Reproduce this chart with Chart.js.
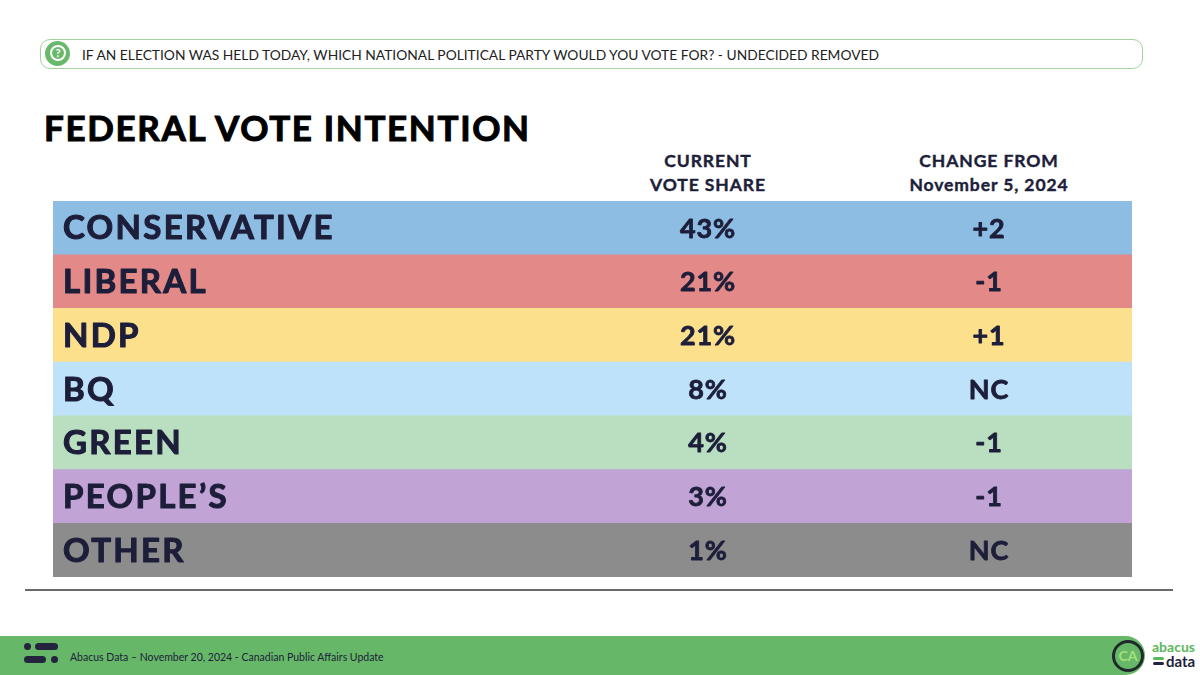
<!DOCTYPE html>
<html>
<head>
<meta charset="utf-8">
<script src="https://cdn.jsdelivr.net/npm/chart.js@4"></script>
<style>
  body { margin: 0; width: 1200px; height: 675px; background: #fff; position: relative; overflow: hidden; font-family: Lato, "Open Sans", sans-serif; color: #1d1e3a; }
  .question { position: absolute; left: 40px; top: 39px; width: 1103px; height: 30px; border: 1.5px solid #9fd29d; border-radius: 10px; box-sizing: border-box; }
  .qicon { position: absolute; left: 45px; top: 41px; width: 25px; height: 25px; border-radius: 50%; background: #68b96a; }
  .qicon div { position: absolute; left: 5px; top: 4px; width: 12px; height: 12px; border: 2px solid #fff; border-radius: 50%; color: #fff; font: bold 11px Lato; text-align: center; line-height: 12px; }
  .qtext { position: absolute; left: 82px; top: 46px; font-size: 13.8px; color: #222; }
  h1 { position: absolute; left: 44px; top: 106px; margin: 0; font-size: 35px; font-weight: bold; color: #000; letter-spacing: 1.65px; -webkit-text-stroke: 1px #000; }
  .colhead { position: absolute; top: 149px; width: 280px; text-align: center; font-size: 17.5px; font-weight: bold; line-height: 24px; color: #1d1e3a; letter-spacing: 0.9px; -webkit-text-stroke: 0.4px #1d1e3a; }
  #wrap { position: absolute; left: 53px; top: 201px; width: 1079px; height: 376px; }
  .rule { position: absolute; left: 25px; top: 589px; width: 1148px; height: 2px; background: #6a6a6a; }
  .footer { position: absolute; left: 0; top: 636px; width: 1145px; height: 39px; background: #66b868; border-radius: 0 20px 20px 0; }
  .ftext { position: absolute; left: 70px; top: 651px; font-size: 10.5px; color: #1d1e3a; }
  .mk { position: absolute; background: #24243e; border-radius: 4px; height: 6px; }
  .logo { position: absolute; left: 1112px; top: 640px; width: 26px; height: 26px; border: 3px solid #1f2a2a; border-radius: 50%; color: #a9e07a; font: bold 14px Lato; text-align: center; line-height: 26px; }
  .ab { position: absolute; left: 1152px; top: 640px; font: bold 14px Lato; color: #5cb85c; line-height: 14px; }
  .da { position: absolute; left: 1166px; top: 654px; font: bold 15px Lato; color: #1d1e3a; line-height: 14px; }
</style>
</head>
<body>
<div class="question"></div>
<div class="qicon"><div>?</div></div>
<div class="qtext">IF AN ELECTION WAS HELD TODAY, WHICH NATIONAL POLITICAL PARTY WOULD YOU VOTE FOR? - UNDECIDED REMOVED</div>
<h1>FEDERAL VOTE INTENTION</h1>
<div class="colhead" style="left:568px">CURRENT<br>VOTE SHARE</div>
<div class="colhead" style="left:849px">CHANGE FROM<br>November 5, 2024</div>
<div id="wrap"><canvas id="table"></canvas></div>
<div class="rule"></div>
<div class="footer"></div>
<div class="mk" style="left:24px;top:643px;width:7px;height:7px;border-radius:50%"></div>
<div class="mk" style="left:35px;top:643px;width:23px;height:7px"></div>
<div class="mk" style="left:24px;top:656px;width:22px;height:7px"></div>
<div class="mk" style="left:51px;top:656px;width:7px;height:7px;border-radius:50%"></div>
<div class="ftext">Abacus Data – November 20, 2024 - Canadian Public Affairs Update</div>
<div class="logo">CA</div>
<div class="ab">abacus</div>
<div class="mk" style="left:1153px;top:657px;width:11px;height:3px;background:#5cb85c"></div>
<div class="mk" style="left:1153px;top:662px;width:11px;height:3px"></div>
<div class="da">data</div>
<script>
const parties = ['CONSERVATIVE', 'LIBERAL', 'NDP', 'BQ', 'GREEN', 'PEOPLE\u2019S', 'OTHER'];
const voteShare = [43, 21, 21, 8, 4, 3, 1];
const changeLabels = ['+2', '-1', '+1', 'NC', '-1', '-1', 'NC'];
const partyColors = ['#8dbde3', '#e38a89', '#fde08c', '#bfe2fb', '#b9dfc0', '#c1a3d6', '#8c8c8c'];

const ink = '#1d1e3a';

// writes party names, shares and changes on top of each band
const rowText = {
    id: 'rowText',
    afterDatasetsDraw(chart) {
        const ctx = chart.ctx;
        const area = chart.chartArea;
        const y = chart.scales.y;
        ctx.save();
        ctx.fillStyle = ink;
        ctx.strokeStyle = ink;
        ctx.lineJoin = 'round';
        ctx.textBaseline = 'middle';
        parties.forEach((name, i) => {
            const py = y.getPixelForValue(i) + 1;
            ctx.font = 'bold 33px Lato';
            ctx.letterSpacing = '2.3px';
            ctx.lineWidth = 1.1;
            ctx.textAlign = 'left';
            ctx.fillText(name, area.left + 10, py);
            ctx.strokeText(name, area.left + 10, py);
            ctx.font = 'bold 27px Lato';
            ctx.letterSpacing = '0.8px';
            ctx.lineWidth = 0.8;
            ctx.textAlign = 'center';
            ctx.fillText(voteShare[i] + '%', area.left + 655, py);
            ctx.strokeText(voteShare[i] + '%', area.left + 655, py);
            ctx.fillText(changeLabels[i], area.left + 936, py);
            ctx.strokeText(changeLabels[i], area.left + 936, py);
        });
        ctx.restore();
    }
};

new Chart(document.getElementById('table'), {
    type: 'bar',
    data: {
        labels: parties,
        datasets: [{
            data: parties.map(() => [0, 1]),
            backgroundColor: partyColors,
            barPercentage: 1,
            categoryPercentage: 1,
            borderWidth: 0
        }]
    },
    options: {
        indexAxis: 'y',
        responsive: true,
        maintainAspectRatio: false,
        animation: false,
        layout: { padding: 0 },
        plugins: { legend: { display: false }, tooltip: { enabled: false } },
        scales: {
            x: { display: false, min: 0, max: 1 },
            y: { display: false }
        }
    },
    plugins: [rowText]
});
</script>
</body>
</html>
